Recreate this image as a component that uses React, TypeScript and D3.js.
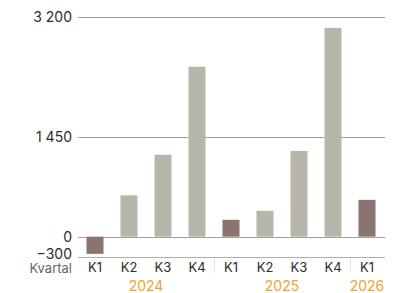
import * as d3 from 'd3';
import React, { useEffect, useRef } from 'react';

const QUARTERS = ["K1", "K2", "K3", "K4", "K1", "K2", "K3", "K4", "K1"];
const YEARS = ["2024", "2024", "2024", "2024", "2025", "2025", "2025", "2025", "2026"];
const VALUES = [-250, 600, 1190, 2470, 245, 375, 1245, 3035, 535];
const Y_TICKS = [-300, 0, 1450, 3200];
const AXIS_TITLE = "Kvartal";

const WIDTH = 407;
const HEIGHT = 293;

const App: React.FC = () => {
  const svgRef = useRef<SVGSVGElement>(null);

  useEffect(() => {
    if (!svgRef.current) { return; }
    const svg = d3.select(svgRef.current);
    svg.selectAll("*").remove();

    const left = 78;
    const right = 384;
    const fontFamily = "Inter, 'Noto Sans', sans-serif";

    const idx = QUARTERS.map((_, i) => String(i));
    const xScale = d3.scaleBand()
      .domain(idx)
      .range([left, right])
      .paddingInner(0.5)
      .paddingOuter(0.25);

    const yScale = d3.scaleLinear()
      .domain([-300, 3200])
      .range([257.3, 16.5]);

    // grid lines
    svg.append("g")
      .selectAll("line")
      .data(Y_TICKS)
      .enter().append("line")
      .attr("x1", left)
      .attr("x2", right + 1)
      .attr("y1", d => Math.round(yScale(d)) + 0.5)
      .attr("y2", d => Math.round(yScale(d)) + 0.5)
      .attr("stroke", d => d === -300 ? "#b0b0b0" : "#a0a0a0")
      .attr("stroke-width", 1);

    // y labels (bottom one nudged up so it sits above the axis line)
    const yBottom = yScale(-300);
    svg.append("g")
      .selectAll("text")
      .data(Y_TICKS)
      .enter().append("text")
      .attr("x", 72)
      .attr("y", d => Math.min(yScale(d), yBottom - 3))
      .attr("dy", "0.36em")
      .attr("text-anchor", "end")
      .style("font-family", fontFamily)
      .style("font-size", "14px")
      .style("fill", "#2b2b2b")
      .text(d => d3.format(",")(d).replace(/,/g, " "));

    // bars
    svg.append("g")
      .selectAll("rect")
      .data(VALUES)
      .enter().append("rect")
      .attr("x", (_, i) => xScale(String(i))!)
      .attr("width", xScale.bandwidth())
      .attr("y", d => yScale(Math.max(0, d)))
      .attr("height", d => Math.abs(yScale(d) - yScale(0)))
      .attr("fill", (_, i) => QUARTERS[i] === "K1" ? "#8a7470" : "#b8b5aa");

    // year separators
    const sepIdx = YEARS.map((y, i) => (i > 0 && YEARS[i - 1] !== y ? i : -1)).filter(i => i > 0);
    svg.append("g")
      .selectAll("line")
      .data(sepIdx)
      .enter().append("line")
      .attr("x1", i => Math.round(xScale(String(i))! - xScale.step() * 0.25) + 0.5)
      .attr("x2", i => Math.round(xScale(String(i))! - xScale.step() * 0.25) + 0.5)
      .attr("y1", 258)
      .attr("y2", 273)
      .attr("stroke", "#e2e2e2");

    // quarter labels
    svg.append("g")
      .selectAll("text")
      .data(QUARTERS)
      .enter().append("text")
      .attr("x", (_, i) => xScale(String(i))! + xScale.bandwidth() / 2)
      .attr("y", 267)
      .attr("dy", "0.36em")
      .attr("text-anchor", "middle")
      .style("font-family", fontFamily)
      .style("font-size", "13px")
      .style("fill", "#2b2b2b")
      .text(d => d);

    svg.append("text")
      .attr("x", 72)
      .attr("y", 268)
      .attr("dy", "0.36em")
      .attr("text-anchor", "end")
      .style("font-family", fontFamily)
      .style("font-size", "13px")
      .style("fill", "#666")
      .text(AXIS_TITLE);

    // year labels
    const years = Array.from(new Set(YEARS));
    svg.append("g")
      .selectAll("text")
      .data(years)
      .enter().append("text")
      .attr("x", y => {
        const ids = YEARS.map((v, i) => (v === y ? i : -1)).filter(i => i >= 0);
        const a = xScale(String(ids[0]))!;
        const b = xScale(String(ids[ids.length - 1]))! + xScale.bandwidth();
        return (a + b) / 2;
      })
      .attr("y", 285.5)
      .attr("dy", "0.36em")
      .attr("text-anchor", "middle")
      .style("font-family", fontFamily)
      .style("font-size", "14px")
      .style("fill", "#f7a02f")
      .text(y => y);
  }, []);

  return (
    <svg
      ref={svgRef}
      width={WIDTH}
      height={HEIGHT}
      style={{ position: "absolute", left: 0, top: 0, background: "#fff" }}
    />
  );
};

export default App;
